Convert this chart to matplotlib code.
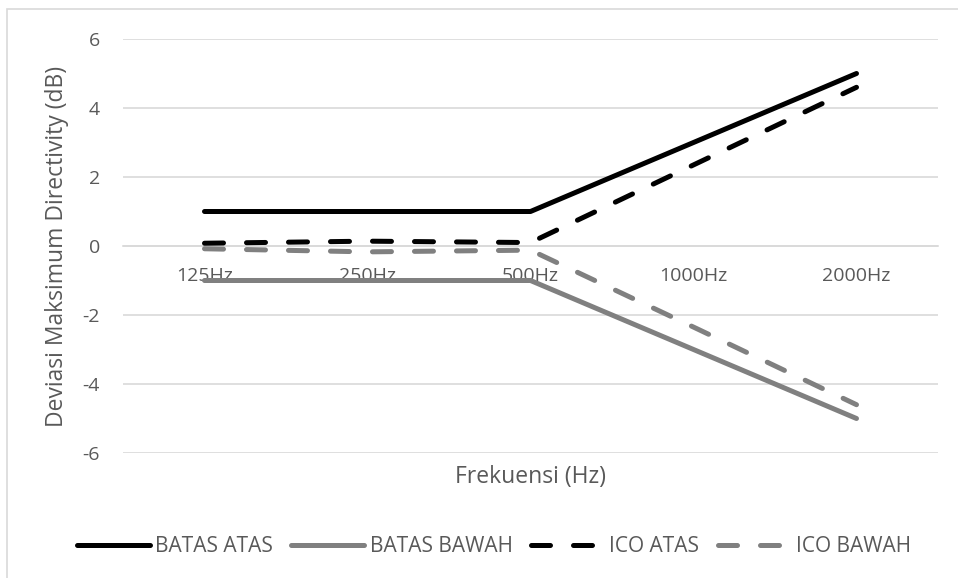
import matplotlib
matplotlib.use("Agg")
import matplotlib.pyplot as plt
from matplotlib.patches import Rectangle

plt.rcParams['font.family'] = ['Open Sans', 'DejaVu Sans']
plt.rcParams['axes.unicode_minus'] = False

categories = ["125Hz", "250Hz", "500Hz", "1000Hz", "2000Hz"]
batas_atas = [1.0, 1.0, 1.0, 3.0, 5.0]
batas_bawah = [-1.0, -1.0, -1.0, -3.0, -5.0]
ico_atas = [0.08, 0.14, 0.10, 2.35, 4.6]
ico_bawah = [-0.08, -0.17, -0.12, -2.35, -4.6]

W, H = 958, 578
fig = plt.figure(figsize=(W / 100, H / 100), dpi=100)
ax_l, ax_r, ax_t, ax_b = 123, 938, 39, 453
ax = fig.add_axes([ax_l / W, 1 - ax_b / H, (ax_r - ax_l) / W, (ax_b - ax_t) / H])

grid_c = "#d9d9d9"
text_c = "#595959"
black = "#000000"
gray = "#808080"
lw = 3.6
dash = (3.8, 4.6)

x = list(range(len(categories)))
ax.plot(x, batas_atas, color=black, lw=lw, solid_capstyle="round",
        label="BATAS ATAS", zorder=3)
ax.plot(x, batas_bawah, color=gray, lw=lw, solid_capstyle="round",
        label="BATAS BAWAH", zorder=3)
ax.plot(x, ico_atas, color=black, lw=lw, dashes=dash, dash_capstyle="round",
        label="ICO ATAS", zorder=3)
ax.plot(x, ico_bawah, color=gray, lw=lw, dashes=dash, dash_capstyle="round",
        label="ICO BAWAH", zorder=3)

ax.set_xlim(-0.5, len(categories) - 0.5)
ax.set_ylim(-6, 6)
ax.set_yticks(range(-6, 7, 2))
ax.grid(axis="y", color=grid_c, lw=1.2, zorder=0)
ax.set_axisbelow(True)

for s in ["top", "right", "left"]:
    ax.spines[s].set_visible(False)
ax.spines["bottom"].set_position(("data", 0))
ax.spines["bottom"].set_color(grid_c)
ax.spines["bottom"].set_linewidth(1.2)

ax.set_xticks(x)
ax.set_xticklabels(categories)
ax.tick_params(axis="x", length=0, pad=15, labelsize=14, labelcolor=text_c)
ax.tick_params(axis="y", length=0, pad=16.5, labelsize=14, labelcolor=text_c)

ax.set_ylabel("Deviasi Maksimum Directivity (dB)", fontsize=16.5, color=text_c)
ax.yaxis.set_label_coords((57 - ax_l) / (ax_r - ax_l), 0.5)
ax.yaxis.label.set_va("center")
fig.text((ax_l + ax_r) / 2 / W, 1 - 477 / H, "Frekuensi (Hz)", fontsize=16.5,
         color=text_c, ha="center", va="center")

fig.legend(loc="center", bbox_to_anchor=(494 / W, 1 - 547 / H), ncol=4,
           frameon=False, fontsize=15, handlelength=3.5, handletextpad=0.25,
           columnspacing=0.9, labelcolor=text_c)

fig.patches.append(Rectangle((7 / W, -0.1), 1.2, 1 - 9 / H + 0.1,
                             transform=fig.transFigure, fill=False,
                             edgecolor=grid_c, lw=1.2))

fig.savefig("out.png", dpi=100)
